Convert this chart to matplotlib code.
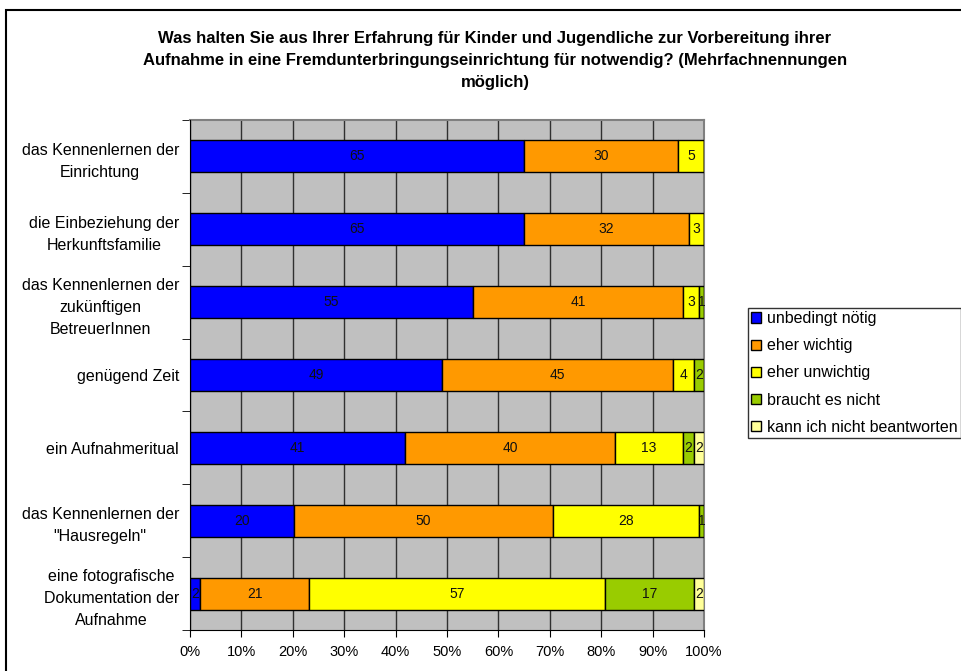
import matplotlib
matplotlib.use("Agg")
from matplotlib import pyplot as plt
from matplotlib.patches import Rectangle
import numpy as np

plt.rcParams['font.family'] = ['Liberation Sans', 'DejaVu Sans']

# Kategorien (von oben nach unten)
categories = [
    "das Kennenlernen der\nEinrichtung",
    "die Einbeziehung der\nHerkunftsfamilie",
    "das Kennenlernen der\nzukünftigen\nBetreuerInnen",
    "genügend Zeit",
    "ein Aufnahmeritual",
    "das Kennenlernen der\n\"Hausregeln\"",
    "eine fotografische\nDokumentation der\nAufnahme",
]
series_names = ["unbedingt nötig", "eher wichtig", "eher unwichtig",
                "braucht es nicht", "kann ich nicht beantworten"]
unbedingt = [65, 65, 55, 49, 41, 20, 2]
eher_wichtig = [30, 32, 41, 45, 40, 50, 21]
eher_unwichtig = [5, 3, 3, 4, 13, 28, 57]
braucht_nicht = [0, 0, 1, 2, 2, 1, 17]
kann_nicht = [0, 0, 0, 0, 2, 0, 2]
colors = ["#0000FF", "#FF9900", "#FFFF00", "#99CC00", "#FFFF99"]

data = np.array([unbedingt, eher_wichtig, eher_unwichtig, braucht_nicht, kann_nicht], dtype=float)
totals = data.sum(axis=0)
shares = data / totals * 100

fig = plt.figure(figsize=(9.62, 6.71), dpi=100)
W, H = 962, 671
ax = fig.add_axes([190 / W, 1 - 630 / H, (704 - 190) / W, (630 - 120) / H])
ax.set_facecolor("#C0C0C0")

y = np.arange(len(categories))
left = np.zeros(len(categories))
for i, name in enumerate(series_names):
    bars = ax.barh(y, shares[i], left=left, height=0.44, color=colors[i],
                   edgecolor="black", linewidth=1.0, label=name, zorder=3)
    for j, b in enumerate(bars):
        if data[i, j] > 0:
            ax.text(left[j] + shares[i, j] / 2, y[j], f"{int(data[i, j])}",
                    ha="center", va="center", fontsize=10, color="#111111", zorder=4)
    left += shares[i]

ax.set_xlim(0, 100)
ax.set_ylim(len(categories) - 0.5, -0.5)
ax.set_xticks(np.arange(0, 101, 10))
ax.set_xticklabels([f"{v}%" for v in range(0, 101, 10)], fontsize=10.5)
ax.xaxis.grid(True, color="#303030", linewidth=1.0, zorder=1)
ax.set_axisbelow(True)

ax.set_yticks(y)
ax.set_yticklabels(categories, fontsize=11.5, ha="right", multialignment="center",
                   linespacing=1.6)
ax.tick_params(axis="y", which="major", length=0, pad=8)
ax.set_yticks(np.arange(-0.5, len(categories), 1), minor=True)
ax.tick_params(axis="y", which="minor", length=6, color="black")
ax.tick_params(axis="x", length=5, color="black", pad=6)

for side in ["top", "right"]:
    ax.spines[side].set_visible(False)
ax.spines["left"].set_color("black")
ax.spines["bottom"].set_color("black")
# obere und rechte Kante grau
ax.plot([0, 100], [-0.5, -0.5], color="#808080", linewidth=1.5, clip_on=False, zorder=2)
ax.plot([100, 100], [-0.5, len(categories) - 0.5], color="#808080", linewidth=1.5, clip_on=False, zorder=2)

fig.text(495 / W, 1 - 31 / H,
         "Was halten Sie aus Ihrer Erfahrung für Kinder und Jugendliche zur Vorbereitung ihrer\n"
         "Aufnahme in eine Fremdunterbringungseinrichtung für notwendig? (Mehrfachnennungen\n"
         "möglich)",
         ha="center", va="top", fontsize=12, fontweight="bold", linespacing=1.6)

leg = fig.legend(loc="upper left", bbox_to_anchor=(748 / W, 1 - 308 / H),
                 fontsize=11.5, frameon=True, fancybox=False, edgecolor="black",
                 handlelength=0.6, handleheight=0.6, handletextpad=0.4,
                 labelspacing=0.76, borderpad=0.2, borderaxespad=0)
leg.get_frame().set_linewidth(1.0)

fig.patches.append(Rectangle((6 / W, -0.1), 1.2, 1 - 10 / H + 0.1, transform=fig.transFigure,
                             fill=False, edgecolor="black", linewidth=1.5))

fig.savefig("out.png", dpi=100)
